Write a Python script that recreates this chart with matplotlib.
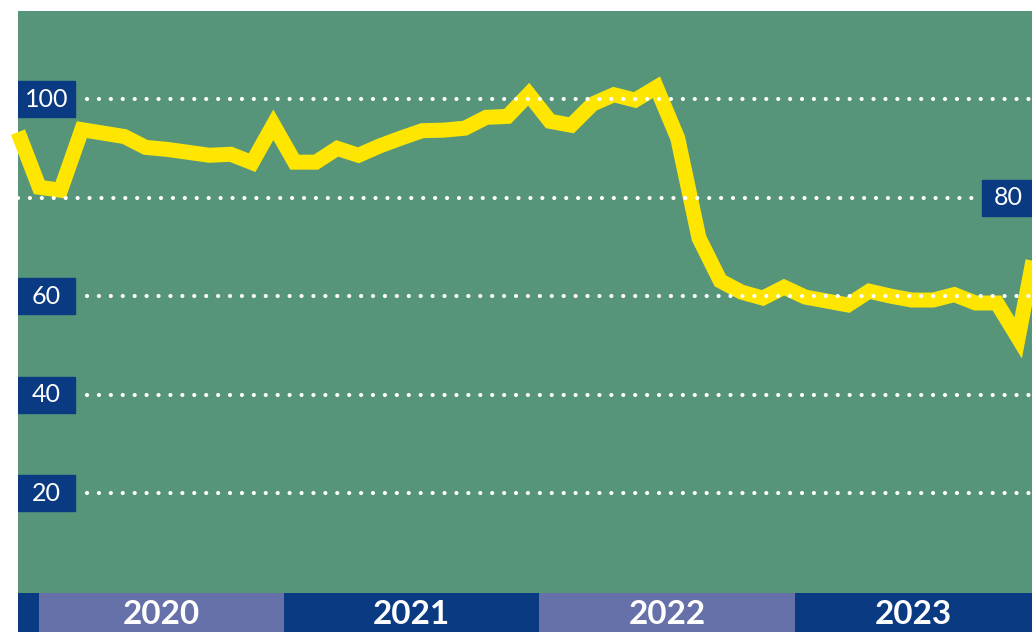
import numpy as np
import matplotlib.pyplot as plt
from matplotlib.patches import Rectangle
import matplotlib.transforms as mtransforms

# monthly index values, Dec 2019 .. Dec 2023
values = [93.3, 82.1, 81.5, 93.8, 93.1, 92.4, 90.2, 89.8, 89.2, 88.6,
          88.8, 87.1, 94.8, 87.2, 87.2, 90.0, 88.6, 90.5, 92.1, 93.6,
          93.7, 94.1, 96.3, 96.5, 101.0, 95.5, 94.7, 99.0, 100.9, 99.8,
          102.4, 92.1, 71.8, 63.1, 60.8, 59.6, 61.8, 59.8, 59.0, 58.2,
          61.0, 60.0, 59.2, 59.2, 60.3, 58.6, 58.6, 51.5, 74.0]
years = ["2020", "2021", "2022", "2023"]
left_ticks = [100, 60, 40, 20]
right_ticks = [80]

GREEN = "#57957B"
NAVY = "#0A3A82"
PURPLE = "#6571A8"
YELLOW = "#FFE600"
W, H = 1032, 632

plt.rcParams["font.family"] = ["Lato", "DejaVu Sans"]

fig = plt.figure(figsize=(W / 100, H / 100), dpi=100)
fig.patch.set_facecolor("white")

ax = fig.add_axes([18 / W, 39 / H, 1014 / W, 582 / H])
ax.set_facecolor(GREEN)
ax.set_xlim(0, 47.65)
ax.set_ylim(-0.3, 117.9)
for s in ax.spines.values():
    s.set_visible(False)
ax.set_xticks([])
ax.set_yticks([])

x = np.arange(len(values))
ax.plot(x, values, color=YELLOW, lw=10.8, solid_joinstyle="miter",
        solid_capstyle="butt", clip_on=False, zorder=2)

trans = mtransforms.blended_transform_factory(ax.transAxes, ax.transData)
box_h = 36 / 4.925
dot_style = dict(color="white", lw=3.0, linestyle=(0, (0.01, 2.85)),
                 dash_capstyle="round", zorder=3)

for v in left_ticks:
    ax.plot([0.068, 1.0], [v, v], transform=trans, **dot_style)
    ax.add_patch(Rectangle((0, v - box_h / 2), 57 / 1014, box_h,
                           transform=trans, color=NAVY, zorder=4))
    ax.text(28.5 / 1014, v, str(v), transform=trans, ha="center",
            va="center", color="white", fontsize=18, zorder=5)

for v in right_ticks:
    ax.plot([0.0, 0.944], [v, v], transform=trans, **dot_style)
    ax.add_patch(Rectangle((1 - 50 / 1014, v - box_h / 2), 50 / 1014, box_h,
                           transform=trans, color=NAVY, zorder=4,
                           clip_on=False))
    ax.text(1 - 24 / 1014, v, str(v), transform=trans, ha="center",
            va="center", color="white", fontsize=18, zorder=5)

# year band
band = fig.add_axes([18 / W, 0, 1014 / W, 39 / H])
band.set_facecolor(NAVY)
band.set_xlim(0, 47.65)
band.set_ylim(0, 1)
for s in band.spines.values():
    s.set_visible(False)
band.set_xticks([])
band.set_yticks([])

edges = [1.0, 12.5, 24.5, 36.5, 47.65]
for i, yr in enumerate(years):
    if i % 2 == 0:
        band.axvspan(edges[i], edges[i + 1], color=PURPLE, lw=0)
    band.text((edges[i] + edges[i + 1]) / 2, 0.45, yr, ha="center",
              va="center", color="white", fontsize=24, fontweight="bold")

fig.savefig("out.png", dpi=100)
